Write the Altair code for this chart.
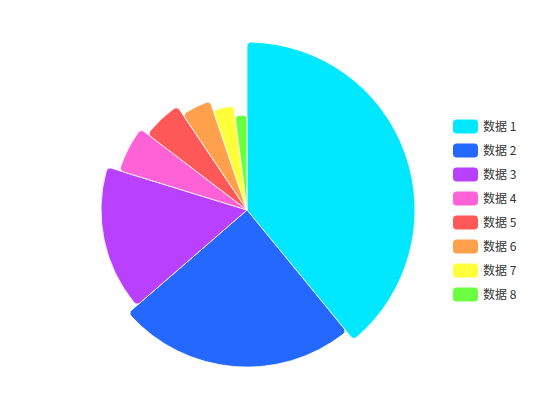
import altair as alt
import pandas as pd
import math

categories = ["数据 1", "数据 2", "数据 3", "数据 4", "数据 5", "数据 6", "数据 7", "数据 8"]
angle_values = [39.0, 24.5, 16.1, 5.6, 5.2, 4.2, 3.2, 2.0]
radial_values = [100, 93.5, 86.9, 79.5, 74.4, 68.5, 62.5, 56.5]
colors = ["#00E8FF", "#2468FF", "#BA40FF", "#FF62D6", "#FF5858", "#FFA04C", "#FFFF3C", "#6CFF40"]

total = sum(angle_values)
starts, ends = [], []
acc = 0.0
for v in angle_values:
    starts.append(acc)
    acc += v
    ends.append(acc)

df = pd.DataFrame({
    "name": categories,
    "value": angle_values,
    "start": starts,
    "end": ends,
    "rad": radial_values,
})

rounded = ("M-0.7,-0.56 L0.7,-0.56 Q1,-0.56 1,-0.26 L1,0.26 Q1,0.56 0.7,0.56 "
           "L-0.7,0.56 Q-1,0.56 -1,0.26 L-1,-0.26 Q-1,-0.56 -0.7,-0.56 Z")

chart = alt.Chart(df).mark_arc(stroke="white", strokeWidth=0.8, cornerRadius=4).encode(
    theta=alt.Theta("start:Q", stack=None,
                    scale=alt.Scale(type="linear", domain=[0, total], range=[0, 2 * math.pi], zero=True)),
    theta2=alt.Theta2("end:Q"),
    radius=alt.Radius("rad:Q", stack=None,
                      scale=alt.Scale(type="linear", domain=[0, 100], range=[0, 168], zero=True)),
    color=alt.Color("name:N", sort=categories,
                    scale=alt.Scale(domain=categories, range=colors),
                    legend=alt.Legend(title=None, orient="none", legendX=445, legendY=106,
                                      symbolType=rounded, symbolSize=625, symbolStrokeWidth=0,
                                      symbolOpacity=1,
                                      labelFont="Noto Sans CJK SC", labelFontSize=12,
                                      labelColor="#333333", labelOffset=5, rowPadding=4)),
    x=alt.value(239),
    y=alt.value(202),
).properties(
    width=534, height=404, padding=0, autosize="none"
).configure_view(stroke=None)

chart.save("out.html", embed_options={"renderer": "svg", "actions": False})
